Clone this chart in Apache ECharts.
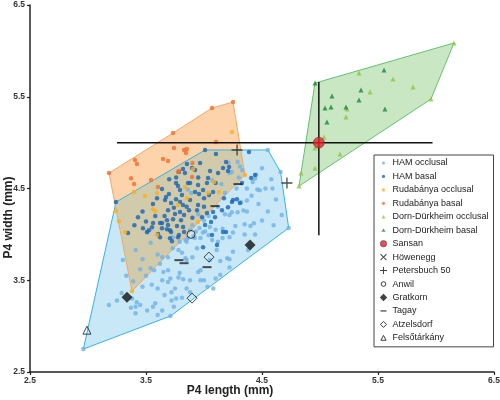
<!DOCTYPE html>
<html><head><meta charset="utf-8">
<script src="https://cdn.jsdelivr.net/npm/echarts@6/dist/echarts.min.js"></script>
<style>html,body{margin:0;padding:0;background:#fff}#c{width:500px;height:400px}</style>
</head><body><div id="c"></div>
<script>
const tickValues = [2.5, 3.5, 4.5, 5.5, 6.5];

const hamOcclusal = [[2.96,2.75],[4.55,4.92],[4.66,4.68],[4.73,4.07],[3.71,3.11],
[3.41,3.83],[3.47,3.73],[3.54,3.91],[3.60,3.78],[3.54,3.63],[3.45,3.62],[3.64,3.75],[3.69,3.75],[3.73,3.85],[3.78,3.83],[3.81,3.80],[3.84,3.74],[3.90,3.75],[3.69,3.61],[3.79,3.58],[3.78,3.53],[3.82,3.51],[3.71,3.52],[3.69,3.48],[3.64,3.50],[3.55,3.45],[3.47,3.43],[3.85,3.41],[3.88,3.37],[3.75,3.41],[3.72,3.37],[3.66,3.34],[3.72,3.28],[3.29,3.36],[3.25,3.28],[3.38,3.30],[3.18,3.23],[3.37,3.20],[3.41,3.21],[3.45,3.23],[3.51,3.17],[3.56,3.21],[3.64,3.17],[3.60,3.12],[3.39,3.49],[3.58,3.25],[3.74,3.21],[3.76,3.30],[3.81,3.31],[3.60,3.41],[3.57,3.61],[3.65,3.59],[3.88,3.50],[3.95,3.59],[3.97,3.50],[4.03,3.43],[4.08,3.41],[4.10,3.52],[4.14,3.56],[4.20,3.74],[4.25,3.81],[4.11,3.83],[4.07,3.94],[4.04,3.99],[3.99,4.02],[3.97,3.96],[3.92,3.96],[3.85,3.92],[3.79,3.92],[3.73,3.97],[3.51,4.02],[3.85,3.72],[4.29,4.79],[4.31,4.74],[4.24,4.68],[4.44,4.61],[4.53,4.50],[4.59,4.50],[4.46,4.49],[4.42,4.57],[4.41,4.42],[4.37,4.37],[4.32,4.35],[4.34,4.26],[4.37,4.25],[4.29,4.24],[4.24,4.24],[4.22,4.21],[4.18,4.22],[4.43,4.12],[4.40,4.09],[4.35,4.11],[4.27,4.09],[4.16,4.06],[4.25,4.02],[4.35,4.00],[4.44,4.00],[4.67,4.21],[4.01,4.03],[4.05,4.08],[4.10,4.05],[4.37,4.50],[4.28,4.50],[4.45,4.65],[4.48,4.48],[3.94,3.85],[4.12,3.92],[4.16,3.96],[4.22,3.97],[4.38,3.83],[4.22,3.73],[4.14,3.71],[4.05,3.72],[3.97,3.61],[4.22,3.64],[4.00,3.50],[3.86,4.49],[3.89,4.45],[4.07,4.59],[4.21,4.78],[4.22,4.67],[3.41,3.14],[3.42,3.26],[3.86,3.96],[3.91,3.98],[3.84,3.94],[3.93,4.03],
[3.90,4.10],[3.96,4.07],[4.00,4.15],[3.88,4.05],[4.04,4.20],[4.12,4.30],[4.18,4.45],[4.15,4.55],[3.95,4.22],[4.30,4.62],[4.33,4.70],[4.50,4.72],[4.58,4.60],[4.62,4.38],[4.55,4.25],[4.50,4.15],[4.60,4.10],[4.47,4.33],[3.33,3.55],[3.50,3.55],[3.62,3.68],[3.30,3.72]];

const hamBasal = [[3.853,4.766],[3.897,4.723],[3.819,4.712],[3.784,4.679],[3.862,4.559],[3.759,4.559],[3.776,4.526],[3.698,4.439],[3.638,4.494],[3.793,4.483],[3.81,4.428],[3.759,4.384],[3.716,4.341],[3.793,4.352],[3.819,4.319],[3.880,4.374],[3.690,4.264],[3.750,4.221],[3.793,4.243],[3.828,4.210],[3.871,4.264],[3.681,4.155],[3.733,4.166],[3.802,4.155],[3.690,4.101],[3.638,4.068],[3.561,4.123],[3.552,4.079],[3.526,4.046],[3.474,4.068],[3.431,4.188],[3.638,4.123],[3.707,4.046],[3.767,4.090],[4.009,4.919],[4.103,4.875],[4.388,4.897],[4.440,4.646],[4.190,4.788],[4.216,4.734],[4.164,4.723],[4.207,4.690],[4.121,4.668],[4.052,4.690],[4.035,4.614],[4.026,4.559],[3.992,4.483],[3.949,4.537],[3.957,4.439],[3.923,4.461],[4.000,4.395],[4.043,4.428],[4.078,4.461],[4.172,4.395],[4.250,4.374],[4.284,4.384],[4.207,4.297],[4.155,4.264],[4.078,4.243],[4.026,4.232],[3.983,4.188],[4.095,4.188],[4.061,4.134],[4.009,4.101],[4.190,4.025],[3.949,4.319],[3.940,4.264],[3.509,4.025],[3.621,3.970],[3.716,4.025],[3.784,3.992],[3.724,3.926],[3.828,4.025],[3.345,4.014],[3.621,4.123],[3.604,4.003],[3.681,4.057],[3.707,3.959],[3.776,3.970],[3.595,4.395],[3.673,4.406],[4.069,3.992],[4.164,4.025],[4.241,4.352],[4.310,4.341],[4.112,3.883],[3.992,3.861],[4.327,4.559],[4.406,4.614],[3.241,4.352],[3.923,4.701],[3.966,4.777],[3.836,4.668],[3.664,4.374],
[3.740,4.290],[3.850,4.300],[3.660,4.200],[3.900,4.180],[3.580,4.200],[3.760,4.620],[3.700,4.600],[3.950,4.620],[4.100,4.560],[3.500,4.140],[3.400,4.100],[3.470,4.250],[3.560,4.330],[3.880,4.560],[4.000,4.300],[3.820,4.080]];

const rudOcclusal = [[4.241,5.115],[4.353,4.646],[3.241,4.254],[3.379,3.381],[3.905,4.712],[4.086,4.570],[4.129,4.461],[3.397,4.461],[3.491,4.417],[3.560,4.275],[3.578,4.254],[3.595,4.450],[3.853,4.395],[3.776,4.319],[3.267,4.144],[3.319,4.025],[3.595,3.992],[3.948,4.134],[4.034,4.450],[3.836,4.515]];

const rudBasal = [[3.181,4.668],[4.250,5.442],[4.069,5.377],[3.733,5.104],[3.405,4.810],[3.422,4.766],[3.371,4.613],[3.397,4.548],[3.741,4.941],[3.828,4.919],[3.853,4.930],[3.647,4.821],[3.690,4.799],[3.543,4.592],[4.103,5.006],[3.900,4.777],[3.897,4.624],[3.784,4.690],[3.776,4.679],[3.603,4.515],[3.845,4.886]];

const dornOcclusal = [[5.336,5.758],[5.629,5.693],[5.802,5.606],[5.431,5.551],[5.233,5.366],[5.224,5.279],[5.034,5.061],[4.957,4.941],[5.172,4.875],[4.836,4.668],[4.957,4.722],[4.819,4.526],[6.155,6.086],[5.957,5.475]];

const dornBasal = [[4.957,5.649],[5.552,5.791],[5.353,5.573],[5.103,5.508],[5.336,5.464],[5.043,5.377],[5.095,5.388],[5.224,5.388],[5.560,5.366],[5.060,5.224]];

const hamHull = [[2.96,2.75],[3.241,4.352],[4.01,4.92],[4.55,4.92],[4.66,4.68],[4.73,4.07],[3.71,3.11]];
const rudHull = [[3.181,4.668],[3.733,5.104],[4.069,5.377],[4.250,5.442],[4.353,4.646],[3.379,3.381]];
const dornHull = [[4.819,4.526],[4.957,5.649],[6.155,6.086],[5.957,5.475]];

const sansan = [[4.99,5.0]];
const sansanXRange = [3.25, 5.97];
const sansanYRange = [3.99, 5.66];
const howenegg = [];
const petersbuch = [[4.285,4.92],[4.715,4.56]];
const anwil = [[3.888,4.0]];
const gratkorn = [[3.336,3.316],[4.397,3.883]];
const tagay = [[4.293,4.548],[4.095,4.308],[3.784,3.719],[3.828,3.686],[4.026,3.643]];
const atzelsdorf = [[4.043,3.752],[3.897,3.305]];
const felsotarkany = [[2.991,2.956]];

// overlap of the two convex hulls (Sutherland-Hodgman, in data space)
function clipConvex(subject, clipPoly) {
  let area = 0;
  for (let i = 0; i < clipPoly.length; i++) {
    const a = clipPoly[i], b = clipPoly[(i + 1) % clipPoly.length];
    area += a[0] * b[1] - b[0] * a[1];
  }
  const s = area > 0 ? 1 : -1;
  const side = (p, a, b) => s * ((b[0] - a[0]) * (p[1] - a[1]) - (b[1] - a[1]) * (p[0] - a[0]));
  let out = subject.slice();
  for (let i = 0; i < clipPoly.length && out.length; i++) {
    const a = clipPoly[i], b = clipPoly[(i + 1) % clipPoly.length];
    const inp = out; out = [];
    for (let j = 0; j < inp.length; j++) {
      const p = inp[j], q = inp[(j + 1) % inp.length];
      const sp = side(p, a, b), sq = side(q, a, b);
      if (sp >= 0) out.push(p);
      if ((sp >= 0) !== (sq >= 0)) {
        const t = sp / (sp - sq);
        out.push([p[0] + t * (q[0] - p[0]), p[1] + t * (q[1] - p[1])]);
      }
    }
  }
  return out;
}
const overlapHull = clipConvex(rudHull, hamHull);

const FONT = 'Liberation Sans, Arial, sans-serif';
const PLUS = 'path://M4.4,0H5.6V4.4H10V5.6H5.6V10H4.4V5.6H0V4.4H4.4Z';
const XS = 'path://M0.8,0L5,4.2L9.2,0L10,0.8L5.8,5L10,9.2L9.2,10L5,5.8L0.8,10L0,9.2L4.2,5L0,0.8Z';
const P = 'path://M0,0M8,8';
const icons = {
  dot: P + 'M5.6,4A1.6,1.6,0,1,1,2.4,4A1.6,1.6,0,1,1,5.6,4Z',
  tri: P + 'M4,2.2L6,5.6L2,5.6Z',
  big: P + 'M7.2,4A3.2,3.2,0,1,1,0.8,4A3.2,3.2,0,1,1,7.2,4Z',
  x: P + 'M0.7,1.4L1.4,0.7L4,3.3L6.6,0.7L7.3,1.4L4.7,4L7.3,6.6L6.6,7.3L4,4.7L1.4,7.3L0.7,6.6L3.3,4Z',
  plus: P + 'M3.5,0.5H4.5V3.5H7.5V4.5H4.5V7.5H3.5V4.5H0.5V3.5H3.5Z',
  ocircle: P + 'M6.3,4A2.3,2.3,0,1,1,1.7,4A2.3,2.3,0,1,1,6.3,4Z',
  diamond: P + 'M4,0.3L7.7,4L4,7.7L0.3,4Z',
  dash: P + 'M1,3.4H7V4.6H1Z',
  odiamond: P + 'M4,1L7,4L4,7L1,4Z',
  otri: P + 'M4,1.6L6.6,6.4L1.4,6.4Z'
};

function hullFill(pts, fill) {
  return {type:'custom', coordinateSystem:'cartesian2d', silent:true, clip:false, z:1,
    data:[pts[0]], encode:{x:0,y:1},
    renderItem:function(params, api){
      return {type:'polygon', shape:{points: pts.map(p => api.coord(p))},
        style:{fill: fill, stroke:'none'}};
    }};
}
function hullStroke(pts, stroke) {
  return {type:'custom', coordinateSystem:'cartesian2d', silent:true, clip:false, z:1,
    data:[pts[0]], encode:{x:0,y:1},
    renderItem:function(params, api){
      return {type:'polygon', shape:{points: pts.map(p => api.coord(p))},
        style:{fill:'none', stroke: stroke, lineWidth:1}};
    }};
}
function sc(name, data, symbol, size, itemStyle, z) {
  return {type:'scatter', name, data, symbol, symbolSize:size, itemStyle, z: z||3,
    emphasis:{disabled:true}};
}

const OPEN = {color:'rgba(255,255,255,0)', borderColor:'#1a1a1a', borderWidth:1};

const option = {
  animation:false,
  grid:{left:30, right:6, top:5, bottom:28, outerBoundsMode:'none', containLabel:false},
  xAxis:{type:'value', min:2.5, max:6.5,
    name:'P4 length (mm)', nameLocation:'middle', nameGap:13, nameMoveOverlap:false,
    nameTextStyle:{fontFamily:FONT, fontWeight:'bold', fontSize:12, color:'#222', padding:[0,64,0,0]},
    axisLine:{lineStyle:{color:'#222', width:1.5}},
    axisTick:{length:3, customValues:tickValues, lineStyle:{color:'#222', width:1.2}},
    axisLabel:{customValues:tickValues, margin:4, fontFamily:FONT, fontWeight:'bold', fontSize:8.5, color:'#333',
      formatter: v => v.toFixed(1)},
    splitLine:{show:false}},
  yAxis:{type:'value', min:2.5, max:6.5,
    name:'P4 width (mm)', nameLocation:'middle', nameGap:15, nameRotate:90, nameMoveOverlap:false,
    nameTextStyle:{fontFamily:FONT, fontWeight:'bold', fontSize:12, color:'#222', padding:[0,58,0,0]},
    axisLine:{lineStyle:{color:'#222', width:1.5}},
    axisTick:{length:3, customValues:tickValues, lineStyle:{color:'#222', width:1.2}},
    axisLabel:{customValues:tickValues, margin:5, fontFamily:FONT, fontWeight:'bold', fontSize:8.5, color:'#333',
      formatter: v => v.toFixed(1)},
    splitLine:{show:false}},
  legend:{orient:'vertical', left:374, top:155, padding:[3,5,4,5], itemWidth:8, itemHeight:8, itemGap:3.45,
    borderColor:'#444', borderWidth:1, backgroundColor:'#fff', selectedMode:false,
    textStyle:{fontFamily:FONT, fontSize:9, color:'#222', lineHeight:10},
    data:[
      {name:'HAM occlusal', icon:icons.dot},
      {name:'HAM basal', icon:icons.dot},
      {name:'Rudabánya occlusal', icon:icons.dot},
      {name:'Rudabánya basal', icon:icons.dot},
      {name:'Dorn-Dürkheim occlusal', icon:icons.tri},
      {name:'Dorn-Dürkheim basal', icon:icons.tri},
      {name:'Sansan', icon:icons.big, itemStyle:{color:'#e3242b', borderColor:'#333', borderWidth:0.6}},
      {name:'Höwenegg', icon:icons.x, itemStyle:{color:'#111', borderWidth:0}},
      {name:'Petersbuch 50', icon:icons.plus, itemStyle:{color:'#111', borderWidth:0}},
      {name:'Anwil', icon:icons.ocircle, itemStyle:{color:'rgba(255,255,255,0)', borderColor:'#111', borderWidth:1}},
      {name:'Gratkorn', icon:icons.diamond, itemStyle:{color:'#111', borderWidth:0}},
      {name:'Tagay', icon:icons.dash, itemStyle:{color:'#111', borderWidth:0}},
      {name:'Atzelsdorf', icon:icons.odiamond, itemStyle:{color:'rgba(255,255,255,0)', borderColor:'#111', borderWidth:1}},
      {name:'Felsőtárkány', icon:icons.otri, itemStyle:{color:'rgba(255,255,255,0)', borderColor:'#111', borderWidth:1}}
    ]},
  series:[
    hullFill(hamHull, '#c8e8f8'),
    hullFill(dornHull, '#c9e7c3'),
    hullFill(rudHull, '#fcd3ab'),
    hullFill(overlapHull, '#d2cbab'),
    hullStroke(hamHull, '#35b2e6'),
    hullStroke(rudHull, '#f4a862'),
    hullStroke(dornHull, '#62c272'),
    sc('HAM occlusal', hamOcclusal, 'circle', 4.5, {color:'#70b2e6'}),
    sc('HAM basal', hamBasal, 'circle', 4.5, {color:'#1764b4'}),
    sc('Rudabánya occlusal', rudOcclusal, 'circle', 4.5, {color:'#f7b01e'}),
    sc('Rudabánya basal', rudBasal, 'circle', 4.5, {color:'#ee6f30'}),
    sc('Dorn-Dürkheim occlusal', dornOcclusal, 'triangle', 5, {color:'#8dc640'}),
    sc('Dorn-Dürkheim basal', dornBasal, 'triangle', 5, {color:'#16883a'}),
    {type:'line', data:[[sansanXRange[0], sansan[0][1]],[sansanXRange[1], sansan[0][1]]], symbol:'none', silent:true, z:4,
      lineStyle:{color:'#111', width:1.5}},
    {type:'line', data:[[sansan[0][0], sansanYRange[0]],[sansan[0][0], sansanYRange[1]]], symbol:'none', silent:true, z:4,
      lineStyle:{color:'#111', width:1.5}},
    sc('Sansan', sansan, 'circle', 11, {color:'#e3242b', borderColor:'#333', borderWidth:0.6}, 5),
    sc('Höwenegg', howenegg, XS, 10, {color:'#111'}, 5),
    sc('Petersbuch 50', petersbuch, PLUS, 11, {color:'#222'}, 5),
    sc('Anwil', anwil, 'circle', 8, OPEN, 5),
    sc('Gratkorn', gratkorn, 'diamond', 11, {color:'#111'}, 5),
    sc('Tagay', tagay, 'rect', [9,2], {color:'#222'}, 5),
    sc('Atzelsdorf', atzelsdorf, 'diamond', 10, OPEN, 5),
    sc('Felsőtárkány', felsotarkany, 'triangle', 8, OPEN, 5)
  ]
};
const chart = echarts.init(document.getElementById('c'), null, {renderer:'canvas'});
chart.setOption(option);
</script></body></html>
